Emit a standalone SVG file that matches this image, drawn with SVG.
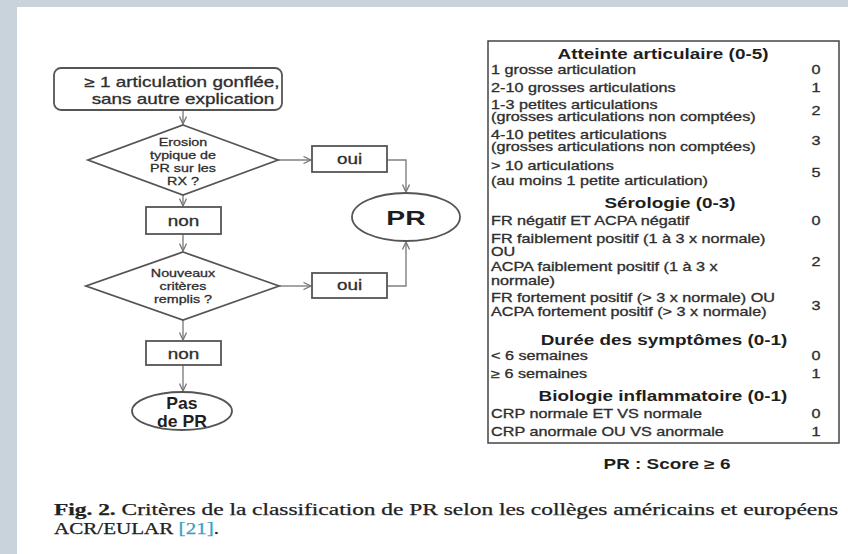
<svg xmlns="http://www.w3.org/2000/svg" width="848" height="554" viewBox="0 0 848 554">
<defs>
<marker id="arr" markerWidth="9" markerHeight="8" refX="8" refY="4" orient="auto" markerUnits="userSpaceOnUse">
<path d="M0.5,0.5 L8,4 L0.5,7.5" fill="none" stroke="#777" stroke-width="1.3"/>
</marker>
</defs>
<style>
.bx{fill:#fff;stroke:#555;stroke-width:1.8}
.cn{fill:none;stroke:#808080;stroke-width:1.4}
.t{font-family:"Liberation Sans",Arial,sans-serif;fill:#2e2e2e;stroke:#2e2e2e;stroke-width:0.3}
.f14{font-size:14px}
.f11{font-size:11px}
.f12{font-size:12px}
.h{font-family:"Liberation Sans",Arial,sans-serif;font-size:14px;font-weight:bold;fill:#1e1e1e}
.m{text-anchor:middle}
.cap{font-family:"Liberation Serif","Times New Roman",serif;font-size:16px;fill:#222;stroke:#222;stroke-width:0.25}
</style>
<rect x="0" y="0" width="848" height="554" fill="#c8d3db"/>
<rect x="17" y="7" width="831" height="547" fill="#fff"/>

<g id="connectors">
<line class="cn" x1="183" y1="110" x2="183" y2="124" marker-end="url(#arr)"/>
<line class="cn" x1="183" y1="195" x2="183" y2="206" marker-end="url(#arr)"/>
<line class="cn" x1="183" y1="234" x2="183" y2="251" marker-end="url(#arr)"/>
<line class="cn" x1="183" y1="320" x2="183" y2="340" marker-end="url(#arr)"/>
<line class="cn" x1="183" y1="365" x2="183" y2="391" marker-end="url(#arr)"/>
<line class="cn" x1="278" y1="160" x2="311" y2="160" marker-end="url(#arr)"/>
<polyline class="cn" points="387,160 406,160 406,192" marker-end="url(#arr)"/>
<line class="cn" x1="279" y1="286" x2="311" y2="286" marker-end="url(#arr)"/>
<polyline class="cn" points="387,286 406,286 406,242" marker-end="url(#arr)"/>
</g>

<g id="start">
<rect class="bx" x="54" y="68" width="228" height="42" rx="7"/>
<text class="t f14 m" transform="translate(182,87) scale(1.35 1)">≥ 1 articulation gonflée,</text>
<text class="t f14 m" transform="translate(183,104) scale(1.35 1)">sans autre explication</text>
</g>

<g id="decision1">
<polygon class="bx" points="183,125 278,160 183,195 88,160"/>
<text class="t f11 m" transform="translate(183,146) scale(1.3 1)">Erosion</text>
<text class="t f11 m" transform="translate(183,159) scale(1.3 1)">typique de</text>
<text class="t f11 m" transform="translate(183,172) scale(1.3 1)">PR sur les</text>
<text class="t f11 m" transform="translate(183,185) scale(1.3 1)">RX ?</text>
</g>

<g id="non1">
<rect class="bx" x="146" y="207" width="75" height="27"/>
<text class="t f14 m" transform="translate(183.5,226) scale(1.35 1)">non</text>
</g>

<g id="decision2">
<polygon class="bx" points="183,252 279,286 183,320 86,286"/>
<text class="t f11 m" transform="translate(183,277) scale(1.3 1)">Nouveaux</text>
<text class="t f11 m" transform="translate(183,290) scale(1.3 1)">critères</text>
<text class="t f11 m" transform="translate(183,303) scale(1.3 1)">remplis ?</text>
</g>

<g id="non2">
<rect class="bx" x="146" y="341" width="75" height="24"/>
<text class="t f14 m" transform="translate(183.5,359) scale(1.35 1)">non</text>
</g>

<g id="paspr">
<ellipse class="bx" cx="182" cy="411" rx="50" ry="19"/>
<text class="h m" transform="translate(182,409) scale(1.1 1)" style="font-size:16px">Pas</text>
<text class="h m" transform="translate(182,427) scale(1.1 1)" style="font-size:16px">de PR</text>
</g>

<g id="oui1">
<rect class="bx" x="312" y="146" width="75" height="26"/>
<text class="t f14 m" transform="translate(349.5,164) scale(1.35 1)">oui</text>
</g>

<g id="oui2">
<rect class="bx" x="312" y="273" width="75" height="25"/>
<text class="t f14 m" transform="translate(349.5,290) scale(1.35 1)">oui</text>
</g>

<g id="pr">
<ellipse class="bx" cx="406" cy="217" rx="54" ry="24"/>
<text class="h m" transform="translate(406,225) scale(1.35 1)" style="font-size:21px">PR</text>
</g>

<g id="table">
<rect x="488" y="41" width="351" height="402" fill="#fff" stroke="#444" stroke-width="1.5"/>
<text class="h m" transform="translate(663,59) scale(1.35 1)">Atteinte articulaire (0-5)</text>
<text class="t f12" transform="translate(491,74) scale(1.35 1)">1 grosse articulation</text>
<text class="t f12" transform="translate(491,92) scale(1.35 1)">2-10 grosses articulations</text>
<text class="t f12" transform="translate(491,109) scale(1.35 1)">1-3 petites articulations</text>
<text class="t f12" transform="translate(491,121) scale(1.35 1)">(grosses articulations non comptées)</text>
<text class="t f12" transform="translate(491,139) scale(1.35 1)">4-10 petites articulations</text>
<text class="t f12" transform="translate(491,151) scale(1.35 1)">(grosses articulations non comptées)</text>
<text class="t f12" transform="translate(491,170) scale(1.35 1)">&gt; 10 articulations</text>
<text class="t f12" transform="translate(491,185) scale(1.35 1)">(au moins 1 petite articulation)</text>
<text class="t f12 m" transform="translate(816,74) scale(1.35 1)">0</text>
<text class="t f12 m" transform="translate(816,92) scale(1.35 1)">1</text>
<text class="t f12 m" transform="translate(816,115) scale(1.35 1)">2</text>
<text class="t f12 m" transform="translate(816,145) scale(1.35 1)">3</text>
<text class="t f12 m" transform="translate(816,177) scale(1.35 1)">5</text>

<text class="h m" transform="translate(670,208) scale(1.35 1)">Sérologie (0-3)</text>
<text class="t f12" transform="translate(491,225) scale(1.35 1)">FR négatif  ET ACPA négatif</text>
<text class="t f12" transform="translate(491,243) scale(1.35 1)">FR faiblement positif (1 à 3 x normale)</text>
<text class="t f12" transform="translate(491,256) scale(1.35 1)">OU</text>
<text class="t f12" transform="translate(491,271) scale(1.35 1)">ACPA faiblement positif (1 à 3 x</text>
<text class="t f12" transform="translate(491,285) scale(1.35 1)">normale)</text>
<text class="t f12" transform="translate(491,302) scale(1.35 1)">FR fortement positif (&gt; 3 x normale) OU</text>
<text class="t f12" transform="translate(491,316) scale(1.35 1)">ACPA fortement positif (&gt; 3 x normale)</text>
<text class="t f12 m" transform="translate(816,225) scale(1.35 1)">0</text>
<text class="t f12 m" transform="translate(816,266) scale(1.35 1)">2</text>
<text class="t f12 m" transform="translate(816,310) scale(1.35 1)">3</text>

<text class="h m" transform="translate(664,345) scale(1.35 1)">Durée des symptômes (0-1)</text>
<text class="t f12" transform="translate(491,360) scale(1.35 1)">&lt; 6 semaines</text>
<text class="t f12" transform="translate(491,378) scale(1.35 1)">≥ 6 semaines</text>
<text class="t f12 m" transform="translate(816,360) scale(1.35 1)">0</text>
<text class="t f12 m" transform="translate(816,378) scale(1.35 1)">1</text>

<text class="h m" transform="translate(663,401) scale(1.35 1)">Biologie inflammatoire (0-1)</text>
<text class="t f12" transform="translate(491,418) scale(1.35 1)">CRP normale ET VS normale</text>
<text class="t f12" transform="translate(491,436) scale(1.35 1)">CRP anormale OU VS anormale</text>
<text class="t f12 m" transform="translate(816,418) scale(1.35 1)">0</text>
<text class="t f12 m" transform="translate(816,436) scale(1.35 1)">1</text>
</g>

<g id="score">
<text class="h m" transform="translate(667,469) scale(1.35 1)">PR : Score ≥ 6</text>
</g>

<g id="caption">
<text class="cap" x="54" y="515" textLength="784" lengthAdjust="spacingAndGlyphs"><tspan font-weight="bold">Fig. 2.</tspan>  Critères de la classification de PR selon les collèges américains et européens</text>
<text class="cap" x="54" y="534" textLength="165" lengthAdjust="spacingAndGlyphs">ACR/EULAR <tspan fill="#3a9fc6" stroke="#3a9fc6">[21]</tspan>.</text>
</g>
</svg>
